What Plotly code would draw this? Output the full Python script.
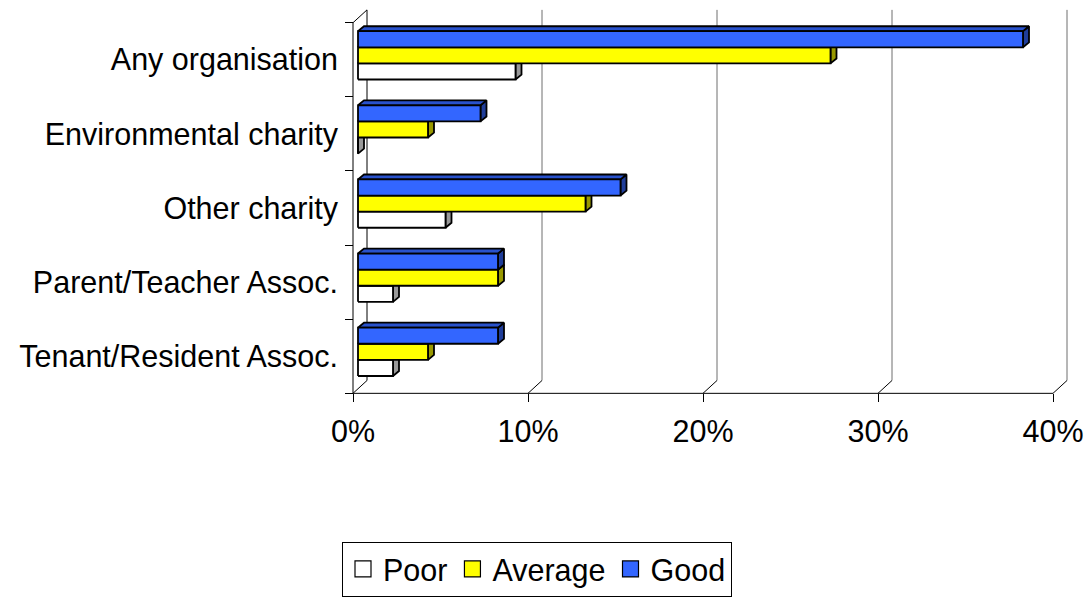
import plotly.graph_objects as go

# ---------------- data ----------------
categories = ["Tenant/Resident Assoc.", "Parent/Teacher Assoc.", "Other charity",
              "Environmental charity", "Any organisation"]
poor = [2, 2, 5, 0, 9]
average = [4, 8, 13, 4, 27]
good = [8, 8, 15, 7, 38]
series_names = ["Poor", "Average", "Good"]
x_tick_vals = [0, 10, 20, 30, 40]
x_tick_text = ["0%", "10%", "20%", "30%", "40%"]

# ---------------- styling / geometry ----------------
W, H = 1085, 597
X0_PX, PX_PER_X = 353.0, 17.5      # front plane: 0% at x=353 px
FLOOR_PX, PX_PER_CAT = 398.0, 75.0  # front floor line at y=398 px
DX, DY = 14 / PX_PER_X, 13 / PX_PER_CAT        # wall depth
BX, BY = 5 / PX_PER_X, 4.5 / PX_PER_CAT        # bar front-face offset
BH = 16.3 / PX_PER_CAT                         # bar thickness
BDX, BDY = 6 / PX_PER_X, 5 / PX_PER_CAT        # bar depth

front_col = {"Poor": "#FFFFFF", "Average": "#FFFF00", "Good": "#3366FF"}
top_col = {"Poor": "#CCCCCC", "Average": "#CCCC00", "Good": "#2952CC"}
side_col = {"Poor": "#999999", "Average": "#999900", "Good": "#1F3D99"}
slot = {"Poor": -1, "Average": 0, "Good": 1}
values = {"Poor": poor, "Average": average, "Good": good}
FONT = "Arial, 'Liberation Sans', sans-serif"
FS = 30.5

fig = go.Figure()

def seg_trace(segs, color, width=1):
    xs, ys = [], []
    for (xa, ya), (xb, yb) in segs:
        xs += [xa, xb, None]
        ys += [ya, yb, None]
    fig.add_trace(go.Scatter(x=xs, y=ys, mode="lines", line=dict(color=color, width=width),
                             showlegend=False, hoverinfo="skip"))

n = len(categories)
ybot, ytop = -0.5, n - 0.5
# back-wall gridlines
seg_trace([((v + DX, ybot + DY), (v + DX, ytop + DY)) for v in x_tick_vals[1:]], "#6e6e6e")
# left wall + floor edges
walls = [((0, ybot), (0, ytop)), ((DX, ybot + DY), (DX, ytop + DY)),
         ((0, ytop), (DX, ytop + DY)), ((0, ybot), (x_tick_vals[-1], ybot))]
walls += [((v, ybot), (v + DX, ybot + DY)) for v in x_tick_vals]
seg_trace(walls, "#000000")

def poly_trace(polys, color):
    xs, ys = [], []
    for p in polys:
        xs += [q[0] for q in p] + [None]
        ys += [q[1] for q in p] + [None]
    fig.add_trace(go.Scatter(x=xs, y=ys, mode="lines", fill="toself", fillcolor=color,
                             line=dict(color="black", width=1.8), showlegend=False,
                             hoverinfo="skip"))

for s in series_names:
    fronts, tops, sides = [], [], []
    for i, v in enumerate(values[s]):
        yc = i + BY + slot[s] * BH
        yb, yt = yc - BH / 2, yc + BH / 2
        x0, x1 = BX, BX + v
        fronts.append([(x0, yb), (x1, yb), (x1, yt), (x0, yt), (x0, yb)])
        tops.append([(x0, yt), (x1, yt), (x1 + BDX, yt + BDY), (x0 + BDX, yt + BDY), (x0, yt)])
        sides.append([(x1, yb), (x1 + BDX, yb + BDY), (x1 + BDX, yt + BDY), (x1, yt), (x1, yb)])
    poly_trace(sides, side_col[s])
    poly_trace(tops, top_col[s])
    poly_trace(fronts, front_col[s])

# legend entries
for s in series_names:
    fig.add_trace(go.Scatter(x=[None], y=[None], mode="markers", name=s,
                             marker=dict(symbol="square", size=16, color=front_col[s],
                                         line=dict(color="black", width=1.2))))

fig.update_layout(
    width=W, height=H, margin=dict(l=0, r=0, t=0, b=0),
    paper_bgcolor="white", plot_bgcolor="white",
    font=dict(family=FONT, size=FS, color="black"),
    showlegend=True, hovermode=False,
    legend=dict(orientation="h", x=342 / W, y=(H - 548) / H, xanchor="left", yanchor="top",
                bordercolor="black", borderwidth=1, bgcolor="white",
                font=dict(family=FONT, size=FS, color="black"), traceorder="normal"),
    xaxis=dict(domain=[0, 1], range=[-X0_PX / PX_PER_X, (W - X0_PX) / PX_PER_X],
               anchor="free", position=(H - FLOOR_PX) / H,
               showgrid=False, zeroline=False, showline=False, automargin=False,
               tickmode="array", tickvals=x_tick_vals, ticktext=x_tick_text,
               ticks="outside", ticklen=8, tickwidth=1, tickcolor="black",
               ticklabelstandoff=3,
               tickfont=dict(family=FONT, size=FS, color="black"), fixedrange=True),
    yaxis=dict(domain=[0, 1], range=[-(H - FLOOR_PX) / PX_PER_CAT - 0.5, FLOOR_PX / PX_PER_CAT - 0.5],
               anchor="free", position=X0_PX / W,
               showgrid=False, zeroline=False, showline=False, automargin=False,
               tickmode="array", tickvals=list(range(n)), ticktext=categories,
               ticks="", ticklabelstandoff=15,
               minor=dict(tickmode="array", tickvals=[k - 0.5 for k in range(n + 1)],
                          ticks="outside", ticklen=8, tickwidth=1, tickcolor="black"),
               tickfont=dict(family=FONT, size=FS, color="black"), fixedrange=True),
)

fig.write_html("out.html", config={"displayModeBar": False, "staticPlot": True},
               post_script="document.body.style.margin='0';document.body.style.overflow='hidden';")
